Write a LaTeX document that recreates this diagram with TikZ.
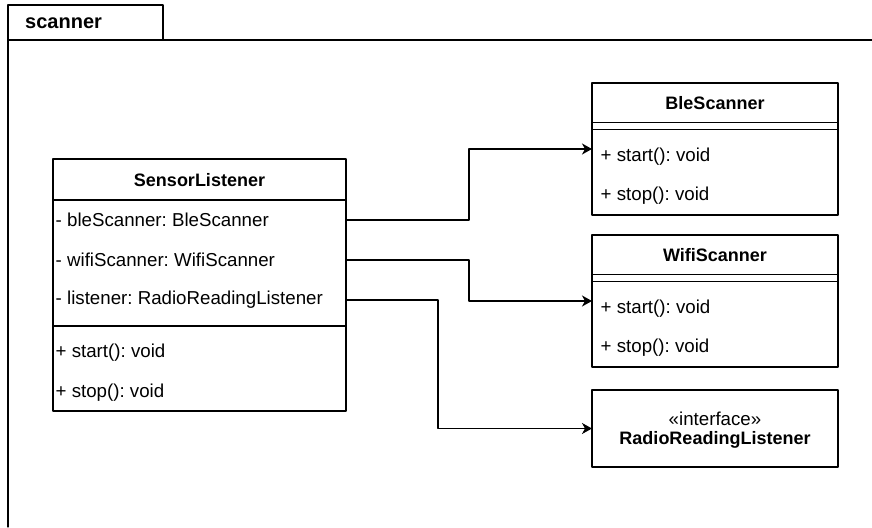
\documentclass[tikz,border=0pt]{standalone}
\usepackage{fontspec}
\setmainfont{Liberation Sans}
\usetikzlibrary{arrows.meta,positioning}
\frenchspacing

\tikzset{
  classbox/.style={draw, line width=1.2pt, outer sep=0pt, inner sep=0pt, anchor=north west},
  row/.style={anchor=west, inner sep=0pt, font=\fontsize{18.7}{22}\selectfont},
  title/.style={inner sep=0pt, font=\bfseries\fontsize{18}{22}\selectfont},
  assoc/.style={line width=1.2pt, -{Stealth[length=10pt,width=11pt,inset=3pt]}}
}

\begin{document}
\begin{tikzpicture}[line cap=round,line join=round,x=1pt,y=-1pt]
\useasboundingbox (0,0) rectangle (872,527);
% package frame
\draw[line width=1.2pt] (8,527) -- (8,5) -- (163,5) -- (163,40);
\draw[line width=1.2pt] (8,40) -- (872,40);
\node[title, anchor=west, font=\bfseries\fontsize{20}{24}\selectfont] (pkg) at (25,23) {scanner};

% SensorListener
\node[classbox, minimum width=293pt, minimum height=252pt] (sl) at (53,159) {};
\node[title] (slname) at (sl.north |- 0,180) {SensorListener};
\draw[line width=1.2pt] (sl.west |- 0,200) -- (sl.east |- 0,200);
\draw[line width=1.2pt] (sl.west |- 0,326) -- (sl.east |- 0,326);
\node[row] (slble) at (55.5,220) {- bleScanner: BleScanner};
\node[row] (slwifi) at (55.5,260) {- wifiScanner: WifiScanner};
\node[row] (sllis) at (55.5,300) {- listener: RadioReadingListener};
\node[row] (slstart) at (55.5,353) {+ start(): void};
\node[row] (slstop) at (55.5,393) {+ stop(): void};

% scanner classes
\foreach \nm/\ttl/\top in {ble/BleScanner/83, wifi/WifiScanner/235} {
  \node[classbox, minimum width=246pt, minimum height=132pt] (\nm) at (592,\top) {};
  \node[title, yshift=-20.5pt] (\nm name) at (\nm.north) {\ttl};
  \draw[line width=1.2pt] ([yshift=-39.5pt]\nm.north west) -- ([yshift=-39.5pt]\nm.north east);
  \draw[line width=1.2pt] ([yshift=-46.5pt]\nm.north west) -- ([yshift=-46.5pt]\nm.north east);
  \node[row] (\nm start) at ([xshift=8.5pt,yshift=-73.5pt]\nm.north west) {+ start(): void};
  \node[row] (\nm stop) at ([xshift=8.5pt,yshift=-113pt]\nm.north west) {+ stop(): void};
}

% interface
\node[classbox, minimum width=246pt, minimum height=77pt] (rrl) at (592,390) {};
\node[row, anchor=center] (rrlst) at (rrl.north |- 0,419) {«interface»};
\node[title] (rrlname) at (rrl.north |- 0,440) {RadioReadingListener};

% associations
\coordinate (bendA) at (469,0);
\coordinate (bendB) at (438,0);
\draw[assoc] (sl.east |- slble) -- (bendA |- slble) |- (ble.west);
\draw[assoc] (sl.east |- slwifi) -- (bendA |- slwifi) |- (wifi.west);
\draw[assoc] (sl.east |- sllis) -- (bendB |- sllis) |- (rrl.west);
\end{tikzpicture}
\end{document}
